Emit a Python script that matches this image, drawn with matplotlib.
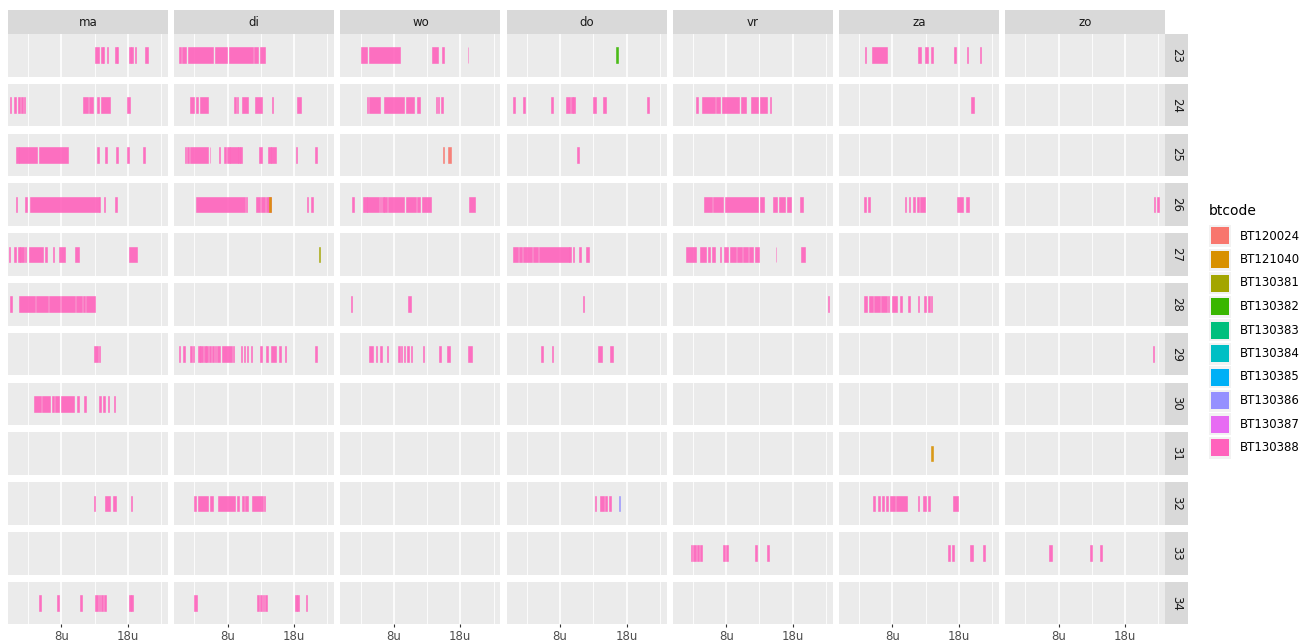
import matplotlib
matplotlib.use("Agg")
import matplotlib.pyplot as plt
from matplotlib.patches import Rectangle

# facetten
days = ["ma", "di", "wo", "do", "vr", "za", "zo"]
weeks = [23, 24, 25, 26, 27, 28, 29, 30, 31, 32, 33, 34]

codes = ["BT120024", "BT121040", "BT130381", "BT130382", "BT130383",
         "BT130384", "BT130385", "BT130386", "BT130387", "BT130388"]
code_colors = ["#F8766D", "#D89000", "#A3A500", "#39B600", "#00BF7D",
               "#00BFC4", "#00B0F6", "#9590FF", "#E76BF3", "#FF62BC"]

hour_breaks = [8, 18]
hour_labels = ["8u", "18u"]
minor_breaks = [3, 13, 23]

# BT130388 intervallen (start-, eind-uur) per week en dag
w23 = {
    "ma": [(13.1, 13.6), (13.9, 14.2), (14.3, 14.4), (14.8, 15.0), (16.1, 16.3), (16.4, 16.5),
           (18.2, 18.4), (18.5, 18.7), (19.0, 19.2), (20.6, 21.0)],
    "di": [(0.7, 1.0), (1.1, 1.7), (2.1, 5.8), (6.1, 7.9), (8.2, 11.8), (12.0, 12.6), (12.8, 13.6)],
    "wo": [(3.0, 4.0), (4.2, 8.9), (13.7, 14.7), (15.2, 15.5), (19.1, 19.2)],
    "za": [(3.9, 4.1), (5.0, 7.2), (11.9, 12.3), (12.9, 13.3), (13.8, 14.1), (17.2, 17.6),
           (19.2, 19.4), (21.1, 21.3)],
}
w24 = {
    "ma": [(0.3, 0.45), (0.9, 1.1), (1.4, 1.7), (2.0, 2.2), (2.4, 2.6), (11.3, 12.0), (12.2, 12.8),
           (13.4, 13.7), (14.0, 15.3), (17.9, 18.3)],
    "di": [(2.4, 2.9), (3.3, 3.5), (3.9, 5.0), (9.0, 9.2), (9.4, 9.6), (10.1, 11.1), (12.1, 13.1),
           (14.7, 14.9), (18.4, 19.1)],
    "wo": [(3.9, 4.1), (4.3, 6.0), (6.5, 9.5), (9.8, 11.1), (11.5, 12.0), (14.3, 14.5),
           (14.6, 14.8), (15.1, 15.4)],
    "do": [(0.9, 1.2), (2.5, 2.7), (6.7, 6.9), (8.9, 9.5), (9.6, 9.9), (10.0, 10.2), (13.0, 13.4),
           (14.4, 14.9), (21.1, 21.4)],
    "vr": [(3.5, 3.8), (4.3, 6.3), (6.5, 7.0), (7.3, 10.0), (10.3, 11.0), (11.8, 12.8),
           (13.1, 14.2), (14.6, 14.75)],
    "za": [(19.8, 20.3)],
}
w25 = {
    "ma": [(1.2, 1.55), (1.55, 4.4), (4.7, 9.05), (13.4, 13.7), (14.6, 14.8), (16.2, 16.5),
           (17.8, 18.1), (20.3, 20.6)],
    "di": [(1.55, 1.8), (1.9, 2.2), (2.3, 5.05), (5.3, 5.4), (6.7, 6.9), (7.4, 7.8), (7.9, 8.3),
           (8.4, 9.5), (9.6, 9.8), (9.9, 10.2), (12.65, 13.15), (14.1, 14.5), (14.6, 15.25),
           (18.3, 18.5), (21.2, 21.4)],
    "do": [(10.6, 10.85)],
}
w26 = {
    "ma": [(1.15, 1.3), (2.55, 2.9), (3.3, 13.6), (13.7, 13.85), (14.35, 14.5), (16.1, 16.4)],
    "di": [(3.2, 10.6), (10.75, 10.9), (12.25, 12.9), (13.05, 13.6), (13.75, 14.1), (14.15, 14.6),
           (19.9, 20.1), (20.5, 20.9)],
    "wo": [(1.75, 2.0), (3.3, 3.9), (4.0, 5.8), (5.9, 6.1), (6.3, 6.5), (6.6, 7.0), (7.2, 9.6),
           (9.9, 11.3), (11.55, 11.95), (12.3, 13.55), (19.3, 20.2)],
    "vr": [(4.6, 5.8), (6.0, 7.5), (7.8, 12.8), (13.05, 13.65), (15.0, 15.7), (15.9, 16.8),
           (17.1, 17.8), (19.1, 19.5)],
    "za": [(3.8, 4.05), (4.35, 4.65), (9.95, 10.1), (10.45, 10.7), (11.05, 11.35), (11.7, 12.0),
           (12.2, 12.95), (17.7, 18.6), (19.1, 19.5)],
    "zo": [(22.3, 22.5), (22.8, 23.05)],
}
w27 = {
    "ma": [(0.15, 0.3), (0.9, 1.1), (1.4, 1.7), (1.8, 2.4), (2.55, 2.7), (3.2, 5.3), (5.5, 5.8),
           (6.7, 6.9), (7.6, 8.6), (10.1, 10.65), (18.2, 19.4)],
    "do": [(1.0, 1.75), (1.9, 2.25), (2.4, 3.75), (4.0, 4.75), (4.9, 9.3), (9.4, 9.65),
           (9.95, 10.05), (10.9, 11.15), (11.9, 12.35)],
    "vr": [(2.0, 3.4), (4.1, 4.9), (5.3, 5.5), (5.9, 6.3), (7.0, 7.2), (7.7, 8.3), (8.5, 9.4),
           (9.6, 10.4), (10.6, 11.3), (11.5, 12.1), (12.3, 12.95), (15.45, 15.55), (19.3, 19.9)],
}
w28 = {
    "ma": [(0.3, 0.55), (1.65, 4.1), (4.2, 6.0), (6.1, 7.8), (8.0, 10.1), (10.25, 11.1),
           (11.2, 11.6), (11.7, 13.1)],
    "wo": [(1.5, 1.75), (10.2, 10.55)],
    "do": [(11.45, 11.65)],
    "vr": [(23.25, 23.4)],
    "za": [(3.75, 4.15), (4.5, 5.1), (5.2, 6.1), (6.3, 7.2), (7.4, 7.55), (7.9, 8.7), (9.2, 9.5),
           (10.4, 10.7), (11.8, 11.95), (12.7, 13.1), (13.3, 13.6), (13.8, 14.0)],
}
w29 = {
    "ma": [(12.95, 13.45), (13.65, 13.8)],
    "di": [(0.7, 0.9), (1.3, 1.55), (2.4, 2.7), (2.8, 2.95), (3.55, 3.8), (3.9, 4.3), (4.4, 4.7),
           (4.8, 5.05), (5.2, 5.55), (5.7, 5.9), (6.05, 6.3), (6.4, 6.8), (7.1, 8.6), (8.75, 8.95),
           (9.95, 10.15), (10.45, 10.65), (10.85, 11.1), (11.45, 11.65), (12.85, 13.15),
           (13.75, 14.1), (14.6, 15.25), (15.75, 16.0), (16.7, 16.85), (21.1, 21.4)],
    "wo": [(4.25, 4.9), (5.3, 5.4), (6.0, 6.2), (7.0, 7.2), (8.6, 8.9), (9.1, 9.3), (9.5, 9.7),
           (10.05, 10.35), (10.55, 10.75), (12.45, 12.6), (14.8, 15.15), (16.05, 16.4),
           (19.2, 19.8)],
    "do": [(5.15, 5.4), (6.8, 6.9), (13.7, 14.35), (15.45, 16.0)],
    "zo": [(22.2, 22.35)],
}
w30 = {
    "ma": [(3.9, 4.9), (5.15, 6.3), (6.55, 6.9), (7.1, 7.7), (8.0, 9.95), (10.35, 10.65),
           (11.45, 11.65), (13.6, 14.0), (14.2, 14.6), (15.0, 15.2), (15.85, 16.05)],
}
w31 = {}
w32 = {
    "ma": [(12.95, 13.1), (14.6, 15.25), (15.75, 16.15), (18.4, 18.6)],
    "di": [(3.0, 3.2), (3.55, 5.05), (5.4, 5.8), (6.55, 9.05), (9.35, 9.75), (10.2, 10.5),
           (10.6, 11.1), (11.7, 13.35), (13.45, 13.6)],
    "do": [(13.3, 13.45), (14.05, 14.55), (14.8, 15.05), (15.4, 15.65)],
    "za": [(5.15, 5.4), (5.9, 6.15), (6.4, 6.75), (7.1, 7.4), (7.6, 8.4), (8.55, 10.15),
           (11.8, 11.95), (12.55, 13.1), (13.4, 13.7), (17.1, 17.8)],
}
w33 = {
    "vr": [(2.65, 2.9), (3.0, 3.5), (3.6, 3.9), (4.0, 4.3), (7.5, 7.8), (7.9, 8.2),
           (12.35, 12.65), (14.2, 14.45)],
    "za": [(16.3, 16.6), (16.9, 17.2), (19.7, 20.05), (21.6, 21.85)],
    "zo": [(6.55, 7.05), (12.75, 13.05), (14.25, 14.5)],
}
w34 = {
    "ma": [(4.65, 4.9), (7.4, 7.7), (10.85, 11.05), (13.1, 13.5), (13.6, 13.85), (13.95, 14.25),
           (14.35, 14.65), (18.1, 18.4), (18.5, 18.7)],
    "di": [(3.0, 3.45), (12.35, 12.65), (12.85, 13.15), (13.25, 13.5), (13.65, 13.95),
           (18.1, 18.4), (18.5, 18.7), (19.75, 19.9)],
}
main_events = [w23, w24, w25, w26, w27, w28, w29, w30, w31, w32, w33, w34]

# overige codes: (week, dag, start, eind, code)
other_events = [
    (23, "do", 16.4, 16.7, "BT130382"),
    (25, "wo", 15.4, 15.6, "BT120024"),
    (25, "wo", 16.2, 16.6, "BT120024"),
    (26, "di", 14.3, 14.55, "BT121040"),
    (27, "di", 21.75, 21.9, "BT130381"),
    (31, "za", 13.8, 14.1, "BT121040"),
    (32, "do", 16.9, 17.05, "BT130386"),
]

W, H = 1300, 643
fig = plt.figure(figsize=(W / 100, H / 100), dpi=100)
fig.patch.set_facecolor("white")

col_x0, col_step, pw = 8, 166.2, 160
row_y0, row_step, ph = 34, 49.8, 42.5
color_of = dict(zip(codes, code_colors))


def box(x, y, w, h):
    return [x / W, 1 - (y + h) / H, w / W, h / H]


for r, wk in enumerate(weeks):
    for c, d in enumerate(days):
        ax = fig.add_axes(box(col_x0 + c * col_step, row_y0 + r * row_step, pw, ph))
        ax.set_facecolor("#EBEBEB")
        ax.set_xlim(-0.03, 24.03)
        ax.set_ylim(0, 1)
        for m in minor_breaks:
            ax.axvline(m, color="white", lw=0.6, zorder=0)
        for b in hour_breaks:
            ax.axvline(b, color="white", lw=1.2, zorder=0)
        segs = main_events[r].get(d, [])
        if segs:
            ax.broken_barh([(s, e - s) for s, e in segs], (0.317, 0.366),
                           facecolor=color_of["BT130388"], edgecolor=color_of["BT130388"],
                           alpha=0.9, lw=0.4, zorder=2)
        for ew, ed, s, e, code in other_events:
            if ew == wk and ed == d:
                ax.broken_barh([(s, e - s)], (0.317, 0.366), facecolor=color_of[code],
                               edgecolor=color_of[code], alpha=0.9, lw=0.4, zorder=3)
        for sp in ax.spines.values():
            sp.set_visible(False)
        ax.set_yticks([])
        if r == len(weeks) - 1:
            ax.set_xticks(hour_breaks)
            ax.set_xticklabels(hour_labels, fontsize=8.5, color="#4D4D4D")
            ax.tick_params(axis="x", length=2.5, width=0.8, color="#333333", pad=1.5)
        else:
            ax.set_xticks([])

# strips bovenaan
for c, d in enumerate(days):
    sa = fig.add_axes(box(col_x0 + c * col_step, 10, pw, 24))
    sa.set_facecolor("#D9D9D9")
    sa.set_xticks([]); sa.set_yticks([])
    for sp in sa.spines.values():
        sp.set_visible(False)
    sa.text(0.5, 0.5, d, ha="center", va="center", fontsize=8.5, color="#1A1A1A",
            transform=sa.transAxes)

# strips rechts
for r, wk in enumerate(weeks):
    sa = fig.add_axes(box(col_x0 + 6 * col_step + pw, row_y0 + r * row_step, 23, ph))
    sa.set_facecolor("#D9D9D9")
    sa.set_xticks([]); sa.set_yticks([])
    for sp in sa.spines.values():
        sp.set_visible(False)
    sa.text(0.5, 0.5, str(wk), ha="center", va="center", fontsize=8.5, color="#1A1A1A",
            rotation=270, transform=sa.transAxes)

# legenda
fig.text(1209 / W, 1 - 211 / H, "btcode", fontsize=10, color="black", va="center", ha="left")
for i, (code, col) in enumerate(zip(codes, code_colors)):
    yc = 236 + i * 23.5
    fig.add_artist(Rectangle((1209 / W, 1 - (yc + 11) / H), 22 / W, 22 / H,
                             transform=fig.transFigure, facecolor="#F2F2F2", lw=0))
    fig.add_artist(Rectangle((1211 / W, 1 - (yc + 8.5) / H), 18 / W, 17 / H,
                             transform=fig.transFigure, facecolor=col, lw=0))
    fig.text(1240 / W, 1 - yc / H, code, fontsize=8.5, color="black", va="center", ha="left")

fig.savefig("out.png", dpi=100)
